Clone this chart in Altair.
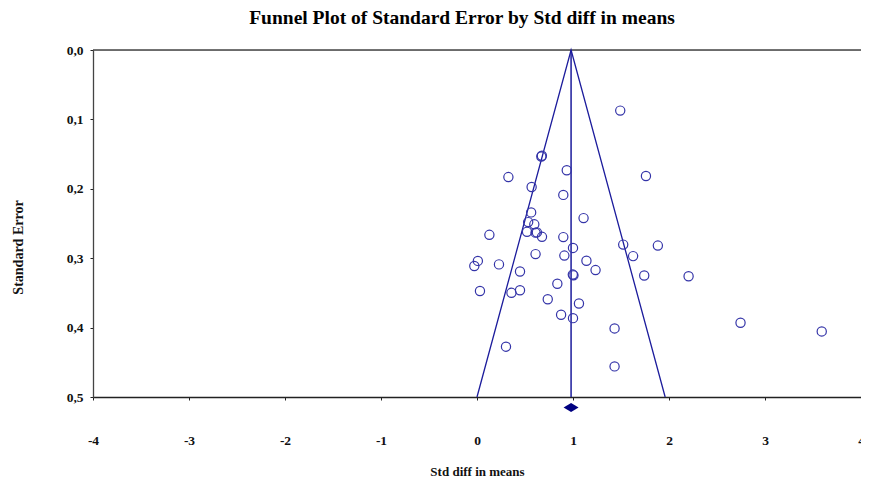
import altair as alt
import pandas as pd

# Study points: Std diff in means (x) and Standard Error (y)
std_diff = [1.492, 0.670, 0.676, 0.935, 0.327, 1.760, 0.569, 0.899, 0.564, 1.110,
            0.533, 0.597, 0.521, 0.610, 0.624, 0.129, 0.677, 0.899, 1.000, 1.523,
            1.884, 0.610, 0.910, 1.626, 0.009, -0.028, 0.229, 1.140, 1.235, 0.448,
            0.998, 1.005, 1.742, 2.204, 0.837, 0.031, 0.359, 0.448, 0.737, 1.062,
            0.876, 1.000, 1.433, 1.433, 0.302, 2.745, 3.591]
std_err = [0.0873, 0.1534, 0.1524, 0.1733, 0.1831, 0.1815, 0.1974, 0.2088, 0.2340, 0.2422,
           0.2480, 0.2512, 0.2620, 0.2632, 0.2628, 0.2663, 0.2692, 0.2696, 0.2852, 0.2804,
           0.2818, 0.2941, 0.2962, 0.2970, 0.3039, 0.3113, 0.3089, 0.3037, 0.3171, 0.3192,
           0.3236, 0.3247, 0.3250, 0.3260, 0.3369, 0.3473, 0.3499, 0.3461, 0.3591, 0.3653,
           0.3814, 0.3864, 0.4012, 0.4559, 0.4275, 0.3930, 0.4055]

# Funnel
funnel_x = [0.0, 0.98, 1.96]
funnel_se = [0.5, 0.0, 0.5]
mean_x = [0.98, 0.98]
mean_se = [0.0, 0.5]
diamond_x = [0.98]
diamond_se = [0.515]

x_ticks = [-4, -3, -2, -1, 0, 1, 2, 3, 4]
y_ticks = [0.0, 0.1, 0.2, 0.3, 0.4, 0.5]

FONT = "Liberation Serif"
LINE = "#1c1c9c"
PT = "#3434a8"

pts = pd.DataFrame({"x": std_diff, "se": std_err})
fun = pd.DataFrame({"x": funnel_x, "se": funnel_se, "o": [0, 1, 2]})
mean = pd.DataFrame({"x": mean_x, "se": mean_se, "o": [0, 1]})
dia = pd.DataFrame({"x": diamond_x, "se": diamond_se})
top = pd.DataFrame({"x": [x_ticks[0]], "x2": [x_ticks[-1]], "se": [0.0]})

xscale = alt.Scale(domain=[-4, 4], nice=False, zero=False)
yscale = alt.Scale(domain=[0, 0.5], reverse=True, nice=False, zero=False)

xaxis = alt.Axis(values=x_ticks, title="Std diff in means", grid=False,
                 domainColor="#222222", domainWidth=1.3, tickColor="#222222",
                 tickSize=3, labelPadding=33, labelFont=FONT, labelFontWeight="bold",
                 labelFontSize=13.5, labelColor="#111111",
                 labelExpr="datum.value < 0 ? '-' + abs(datum.value) : '' + datum.value",
                 titleFont=FONT, titleFontWeight="bold", titleFontSize=13,
                 titleColor="#111111", titlePadding=19, labelFlush=False,
                 labelOverlap=False)
yaxis = alt.Axis(values=y_ticks, title="Standard Error", grid=False,
                 domainColor="#444444", domainWidth=1.3, tickColor="#222222",
                 tickSize=3, labelPadding=7, labelFont=FONT, labelFontWeight="bold",
                 labelFontSize=13.5, labelColor="#111111",
                 labelExpr="replace(format(datum.value, '.1f'), '.', ',')",
                 titleFont=FONT, titleFontWeight="bold", titleFontSize=14,
                 titleColor="#111111", titleX=-75, titleY=197, titleAngle=-90,
                 titleAlign="center", titleBaseline="middle", labelFlush=False)

base_x = alt.X("x:Q", scale=xscale, axis=xaxis)
base_y = alt.Y("se:Q", scale=yscale, axis=yaxis)

top_rule = alt.Chart(top).mark_rule(color="#444444", strokeWidth=1.3).encode(
    x=alt.X("x:Q", scale=xscale), x2="x2:Q", y=alt.Y("se:Q", scale=yscale))

funnel = alt.Chart(fun).mark_line(color=LINE, strokeWidth=1.3).encode(
    x=base_x, y=base_y, order="o:Q")

mline = alt.Chart(mean).mark_line(color=LINE, strokeWidth=1.5).encode(
    x=alt.X("x:Q", scale=xscale), y=alt.Y("se:Q", scale=yscale), order="o:Q")

points = alt.Chart(pts).mark_point(shape="circle", filled=False, color=PT,
                                   strokeWidth=1.2, size=85, opacity=1).encode(
    x=alt.X("x:Q", scale=xscale), y=alt.Y("se:Q", scale=yscale))

diamond = alt.Chart(dia).mark_point(shape="M-1,0L0,-0.6L1,0L0,0.6Z", filled=True,
                                    color="#000080", size=225, opacity=1,
                                    clip=False).encode(
    x=alt.X("x:Q", scale=xscale), y=alt.Y("se:Q", scale=yscale))

chart = alt.layer(top_rule, funnel, mline, points, diamond).properties(
    width=768, height=347,
    autosize=alt.AutoSizeParams(type="none"),
    padding={"left": 85, "top": 42, "right": 0, "bottom": 85},
    title=alt.TitleParams("Funnel Plot of Standard Error by Std diff in means",
                          font=FONT, fontSize=19.5, fontWeight="bold",
                          color="#000000", offset=15, dx=-15),
).configure_view(stroke=None).configure(background="white")

chart.save("out.html", embed_options={"renderer": "svg", "actions": False})
